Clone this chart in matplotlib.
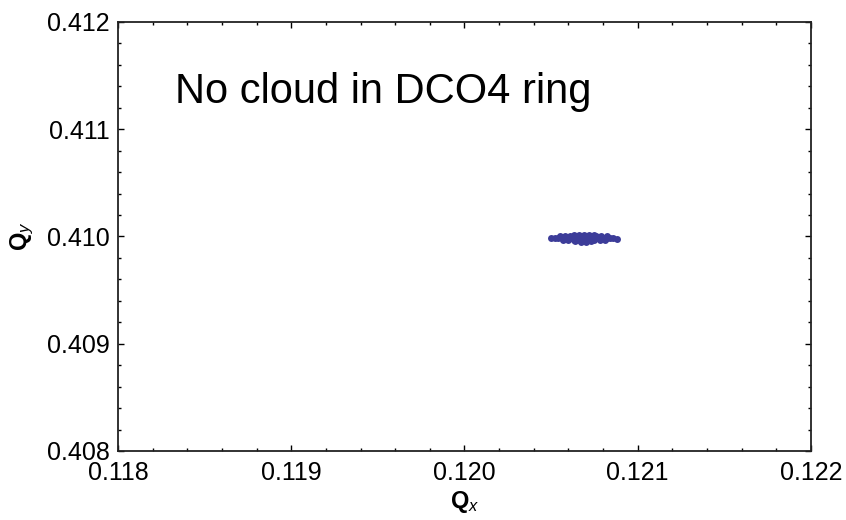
import matplotlib
matplotlib.use('Agg')
import matplotlib.pyplot as plt
from matplotlib.ticker import MultipleLocator, FormatStrFormatter

plt.rcParams['font.family'] = ['Liberation Sans', 'DejaVu Sans']
plt.rcParams['mathtext.fontset'] = 'custom'
plt.rcParams['mathtext.rm'] = 'Liberation Sans'
plt.rcParams['mathtext.it'] = 'Liberation Sans:italic'

# tune footprint points
qx = [0.12050, 0.12052, 0.12054, 0.12056, 0.12058, 0.12060, 0.12062, 0.12064,
      0.12066, 0.12068, 0.12070, 0.12072, 0.12074, 0.12076, 0.12078, 0.12080,
      0.12082, 0.12084, 0.12086, 0.12088,
      0.12055, 0.12058, 0.12061, 0.12064, 0.12067, 0.12070, 0.12073, 0.12076,
      0.12079, 0.12082,
      0.12057, 0.12060, 0.12063, 0.12066, 0.12069, 0.12072, 0.12075, 0.12078,
      0.12081,
      0.12063, 0.12066, 0.12069, 0.12072, 0.12075,
      0.12064, 0.12067, 0.12070, 0.12073]
qy = [0.409982, 0.409984, 0.409984, 0.409984, 0.409984, 0.409984, 0.409984, 0.409984,
      0.409984, 0.409984, 0.409984, 0.409984, 0.409984, 0.409984, 0.409984, 0.409984,
      0.409984, 0.409984, 0.409982, 0.409980,
      0.410000, 0.410002, 0.410004, 0.410004, 0.410004, 0.410004, 0.410004, 0.410004,
      0.410002, 0.410000,
      0.409970, 0.409968, 0.409966, 0.409966, 0.409966, 0.409966, 0.409966, 0.409968,
      0.409970,
      0.410016, 0.410018, 0.410018, 0.410018, 0.410016,
      0.409954, 0.409952, 0.409952, 0.409954]

fig = plt.figure(figsize=(8.46, 5.2), dpi=100)
ax = fig.add_axes([0.1395, 0.1327, 0.8191, 0.825])

ax.plot(qx, qy, 'o', color='#3c3c99', markersize=5, markeredgewidth=0)

ax.set_xlim(0.118, 0.122)
ax.set_ylim(0.408, 0.412)
ax.xaxis.set_major_locator(MultipleLocator(0.001))
ax.yaxis.set_major_locator(MultipleLocator(0.001))
ax.xaxis.set_minor_locator(MultipleLocator(0.0002))
ax.yaxis.set_minor_locator(MultipleLocator(0.0002))
ax.xaxis.set_major_formatter(FormatStrFormatter('%.3f'))
ax.yaxis.set_major_formatter(FormatStrFormatter('%.3f'))

ax.tick_params(which='both', direction='in', top=True, right=True, labelsize=18)
ax.tick_params(which='major', length=4, width=1)
ax.tick_params(which='minor', length=2, width=1)
ax.tick_params(axis='x', pad=7)
ax.tick_params(axis='y', pad=6)
for s in ax.spines.values():
    s.set_linewidth(1.3)
    s.set_color('#222222')

ax.set_xlabel(r'Q$_{\mathit{x}}$', fontsize=17, fontweight='bold', labelpad=3)
ax.set_ylabel(r'Q$_{\mathit{y}}$', fontsize=17, fontweight='bold', labelpad=8)

ax.text(0.082, 0.811, 'No cloud in DCO4 ring', transform=ax.transAxes,
        fontsize=30, va='baseline', ha='left')

plt.savefig('out.png', dpi=100)
plt.close()
